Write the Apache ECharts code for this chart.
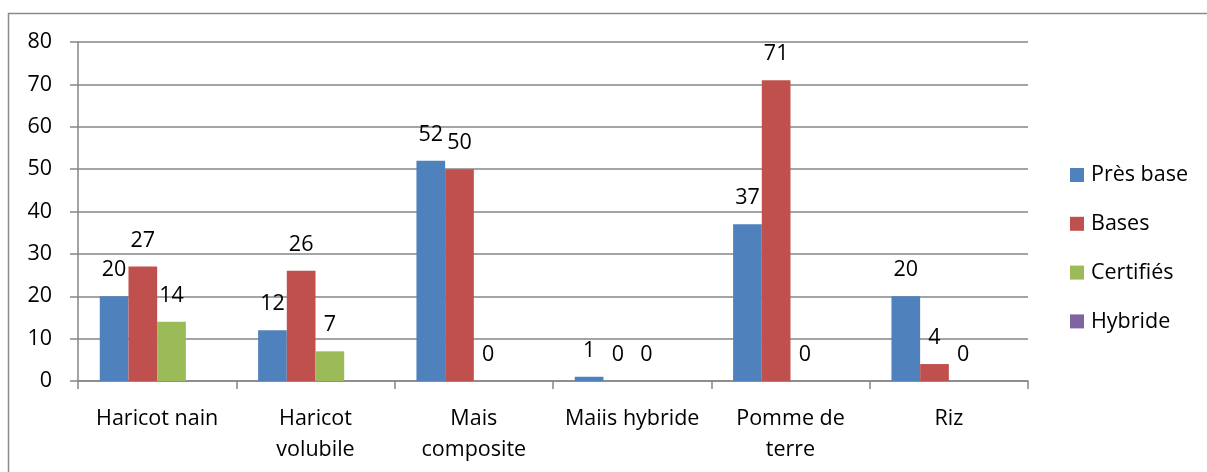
<!DOCTYPE html>
<html>
<head>
<meta charset="utf-8">
<script src="https://cdn.jsdelivr.net/npm/echarts@6/dist/echarts.min.js"></script>
<style>
  html, body { margin: 0; padding: 0; background: #fff; }
  #chart { width: 1207px; height: 472px; }
</style>
</head>
<body>
<div id="chart"></div>
<script>
// categories (x axis)
const categories = ['Haricot nain', 'Haricot\nvolubile', 'Mais\ncomposite', 'Maiis hybride', 'Pomme de\nterre', 'Riz'];
// series values
const presBase = [20, 12, 52, 1, 37, 20];
const bases = [27, 26, 50, 0, 71, 4];
const certifies = [14, 7, 0, 0, 0, 0];
const hybride = [null, null, null, null, null, null];
const yTicks = [0, 10, 20, 30, 40, 50, 60, 70, 80];

const seriesNames = ['Près base', 'Bases', 'Certifiés', 'Hybride'];
const seriesData = [presBase, bases, certifies, hybride];
const colors = ['#4F81BD', '#C0504D', '#9BBB59', '#8064A2'];

const FONT = '"Open Sans", sans-serif';
const FS = 21.5;
const axisGrey = '#868686';

let chart = echarts.init(document.getElementById('chart'), null, { renderer: 'canvas' });

let option = {
  animation: false,
  textStyle: { fontFamily: FONT, color: '#000' },
  graphic: [{
    type: 'rect',
    shape: { x: 8.5, y: 13.5, width: 1400, height: 600 },
    style: { fill: 'none', stroke: '#8a8a8a', lineWidth: 1.5 },
    silent: true
  }],
  grid: { left: 78, right: 179, top: 42, bottom: 91 },
  legend: {
    orient: 'vertical',
    left: 1065,
    top: 159,
    itemWidth: 14,
    itemHeight: 14,
    itemGap: 26.8,
    icon: 'rect',
    textStyle: { fontFamily: FONT, fontSize: FS, color: '#000', lineHeight: 22, padding: [0, 0, 0, 2] },
    data: seriesNames
  },
  xAxis: {
    type: 'category',
    data: categories,
    axisLine: { lineStyle: { color: axisGrey, width: 1.5 } },
    axisTick: { show: true, length: 8, lineStyle: { color: axisGrey, width: 1.5 } },
    axisLabel: {
      interval: 0,
      margin: 22,
      fontFamily: FONT,
      fontSize: FS,
      lineHeight: 31,
      color: '#000'
    }
  },
  yAxis: {
    type: 'value',
    min: yTicks[0],
    max: yTicks[yTicks.length - 1],
    interval: 10,
    axisLine: { show: true, lineStyle: { color: axisGrey, width: 1.5 } },
    axisTick: { show: true, length: 8, lineStyle: { color: axisGrey, width: 1.5 } },
    splitLine: { lineStyle: { color: axisGrey, width: 1.5 } },
    axisLabel: { margin: 26, fontFamily: FONT, fontSize: FS, color: '#000' }
  },
  series: []
};

seriesData.forEach((data, i) => {
  option.series.push({
    name: seriesNames[i],
    type: 'bar',
    data: data,
    barGap: '0%',
    barCategoryGap: '27.5%',
    itemStyle: { color: colors[i] },
    label: {
      show: true,
      position: 'top',
      distance: 15,
      fontFamily: FONT,
      fontSize: FS,
      color: '#000'
    }
  });
});

chart.setOption(option);
</script>
</body>
</html>
